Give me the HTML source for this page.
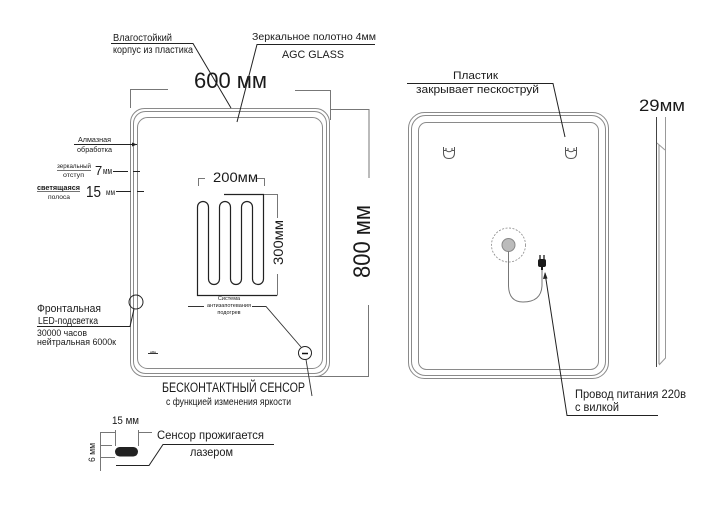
<!DOCTYPE html>
<html><head><meta charset="utf-8"><style>
html,body{margin:0;padding:0;background:#fff;}
svg{display:block;}
text{font-family:"Liberation Sans",Arial,sans-serif;fill:#1a1a1a;}
</style></head><body>
<svg width="720" height="505" viewBox="0 0 720 505" xmlns="http://www.w3.org/2000/svg">
<!-- FRONT VIEW frame -->
<g fill="none" stroke="#8a8a8a" stroke-width="1">
<rect x="130.5" y="108.5" width="199" height="268" rx="14"/>
<rect x="133.5" y="111.5" width="193" height="262" rx="12"/>
<rect x="137.5" y="117.5" width="185" height="251" rx="10"/>
</g>
<!-- 600 dim -->
<g stroke="#777" stroke-width="1" fill="none">
<path d="M130.5 108 V89.5 H168"/>
<path d="M295 90.5 H330.5 V120"/>
<path d="M330 109.5 H369 V178"/>
<path d="M368.5 305 V376.5 H315"/>
</g>
<text x="194" y="88" font-size="22" textLength="73" lengthAdjust="spacingAndGlyphs">600 мм</text>
<text transform="translate(370,278) rotate(-90)" x="0" y="0" font-size="24" textLength="73" lengthAdjust="spacingAndGlyphs">800 мм</text>
<!-- top labels -->
<text x="113" y="41" font-size="10" textLength="59" lengthAdjust="spacingAndGlyphs">Влагостойкий</text>
<text x="113" y="53" font-size="10" textLength="80" lengthAdjust="spacingAndGlyphs">корпус из пластика</text>
<text x="252" y="40" font-size="10" textLength="124" lengthAdjust="spacingAndGlyphs">Зеркальное  полотно 4мм</text>
<text x="282" y="58" font-size="11" textLength="62" lengthAdjust="spacingAndGlyphs">AGC GLASS</text>
<g stroke="#222" stroke-width="1" fill="none">
<path d="M111 43.5 H193 L231 108"/>
<path d="M375 44.5 H257 L237 122"/>
</g>
<!-- left labels -->
<text x="78" y="142" font-size="7" textLength="33" lengthAdjust="spacingAndGlyphs">Алмазная</text>
<text x="77" y="152" font-size="7" textLength="35" lengthAdjust="spacingAndGlyphs">обработка</text>
<path d="M74 144.5 H137" stroke="#222" stroke-width="1"/>
<path d="M137 144.5 L132 142.5 L132 146.5 Z" fill="#222"/>
<text x="57" y="168" font-size="6" textLength="34" lengthAdjust="spacingAndGlyphs">зеркальный</text>
<path d="M57 170.5 H91" stroke="#444" stroke-width="0.8"/>
<text x="63" y="177" font-size="6" textLength="21" lengthAdjust="spacingAndGlyphs">отступ</text>
<text x="95" y="175" font-size="13">7</text>
<text x="103" y="174" font-size="9" textLength="9" lengthAdjust="spacingAndGlyphs">мм</text>
<path d="M113 171.5 H128 M133 171.5 H140" stroke="#222" stroke-width="1"/>
<text x="37" y="190" font-size="7.5" font-weight="bold" textLength="43" lengthAdjust="spacingAndGlyphs">светящаяся</text>
<path d="M37 191.5 H80" stroke="#444" stroke-width="0.8"/>
<text x="48" y="199" font-size="6" textLength="22" lengthAdjust="spacingAndGlyphs">полоса</text>
<text x="86" y="197" font-size="16" textLength="15" lengthAdjust="spacingAndGlyphs">15</text>
<text x="106" y="195" font-size="8" textLength="9" lengthAdjust="spacingAndGlyphs">мм</text>
<path d="M116 191.5 H131 M137 191.5 H144" stroke="#222" stroke-width="1"/>
<!-- heating element -->
<g stroke="#222" stroke-width="1.2" fill="none">
<path d="M277 295.5 H197.5 V207 A5.5 5.5 0 0 1 208.5 207 V279 A5.5 5.5 0 0 0 219.5 279 V207 A5.5 5.5 0 0 1 230.5 207 V279 A5.5 5.5 0 0 0 241.5 279 V207 A5.5 5.5 0 0 1 252.5 207 V279 A5.5 5.5 0 0 0 263.5 279 V194.5 H224"/>
</g>
<g stroke="#777" stroke-width="1" fill="none">
<path d="M198.5 186 V178.5 H205"/>
<path d="M257 178.5 H264.5 V186"/>
<path d="M264 194.5 H277.5 V218"/>
<path d="M277.5 274 V295.5"/>
</g>
<text x="213" y="182" font-size="14" textLength="45" lengthAdjust="spacingAndGlyphs">200мм</text>
<text transform="translate(283,265) rotate(-90)" x="0" y="0" font-size="14" textLength="45" lengthAdjust="spacingAndGlyphs">300мм</text>
<text x="229" y="300" font-size="5.5" text-anchor="middle" fill="#444">Система</text>
<text x="229" y="307" font-size="5.5" text-anchor="middle" fill="#444" textLength="44" lengthAdjust="spacingAndGlyphs">антизапотевания</text>
<text x="229" y="314" font-size="5.5" text-anchor="middle" fill="#444">подогрев</text>
<path d="M188 306.5 H204 M252 306.5 H266 L301 347" stroke="#333" stroke-width="0.9" fill="none"/>
<!-- sensor -->
<circle cx="305" cy="353" r="6.5" fill="#fff" stroke="#222" stroke-width="1"/>
<path d="M302 353.5 H308" stroke="#111" stroke-width="1.5"/>
<path d="M306 359.5 L312 396" stroke="#333" stroke-width="0.9"/>
<text x="162" y="392" font-size="13.5" textLength="143" lengthAdjust="spacingAndGlyphs">БЕСКОНТАКТНЫЙ СЕНСОР</text>
<text x="166" y="405" font-size="10" textLength="125" lengthAdjust="spacingAndGlyphs">с функцией изменения яркости</text>
<!-- LED -->
<circle cx="136" cy="302" r="7" fill="none" stroke="#222" stroke-width="1"/>
<path d="M134 309 L130 326.5 H37" stroke="#222" stroke-width="1" fill="none"/>
<text x="37" y="312" font-size="11" textLength="64" lengthAdjust="spacingAndGlyphs">Фронтальная</text>
<text x="38" y="324" font-size="10" textLength="60" lengthAdjust="spacingAndGlyphs">LED-подсветка</text>
<text x="37" y="336" font-size="9" textLength="50" lengthAdjust="spacingAndGlyphs">30000 часов</text>
<text x="37" y="345" font-size="9" textLength="79" lengthAdjust="spacingAndGlyphs">нейтральная 6000к</text>
<!-- small icon -->
<path d="M148 353.5 H158 M151 353.5 V351.5 M153 353.5 V351 M155 353.5 V351.5" stroke="#333" stroke-width="1"/>
<!-- bottom-left sensor detail -->
<rect x="115" y="447" width="23" height="9.5" rx="4.7" fill="#222"/>
<g stroke="#777" stroke-width="1" fill="none">
<path d="M115.5 430 V446"/>
<path d="M138.5 430 V446"/>
<path d="M100 432.5 H115 M139 432.5 H152"/>
<path d="M100.5 432 V471"/>
<path d="M100 445.5 H112 M100 457.5 H115"/>
</g>
<text x="112" y="424" font-size="11" textLength="27" lengthAdjust="spacingAndGlyphs">15 мм</text>
<text transform="translate(95,462) rotate(-90)" x="0" y="0" font-size="9.5" textLength="19" lengthAdjust="spacingAndGlyphs">6 мм</text>
<path d="M116 465.5 H149 L163 444.5 H274" stroke="#222" stroke-width="1" fill="none"/>
<text x="157" y="439" font-size="12" textLength="107" lengthAdjust="spacingAndGlyphs">Сенсор  прожигается</text>
<text x="190" y="456" font-size="12" textLength="43" lengthAdjust="spacingAndGlyphs">лазером</text>
<!-- BACK VIEW -->
<g fill="none" stroke="#8a8a8a" stroke-width="1">
<rect x="408.5" y="112.5" width="200" height="266" rx="16"/>
<rect x="411.5" y="115.5" width="194" height="260" rx="14"/>
<rect x="418.5" y="122.5" width="180" height="247" rx="8"/>
</g>
<text x="453" y="79" font-size="11" textLength="45" lengthAdjust="spacingAndGlyphs">Пластик</text>
<text x="416" y="93" font-size="11" textLength="123" lengthAdjust="spacingAndGlyphs">закрывает пескоструй</text>
<path d="M407 83.5 H553 L565 137" stroke="#222" stroke-width="1" fill="none"/>
<!-- hooks -->
<g stroke="#555" stroke-width="1" fill="none">
<path d="M443.5 147 V153 Q443.5 158.5 449 158.5 Q454.5 158.5 454.5 153 V147 M443.5 150.5 H446 V148 M454.5 150.5 H452 V148 M446 150.5 Q449 153 452 150.5"/>
<path d="M565.5 147 V153 Q565.5 158.5 571 158.5 Q576.5 158.5 576.5 153 V147 M565.5 150.5 H568 V148 M576.5 150.5 H574 V148 M568 150.5 Q571 153 574 150.5"/>
</g>
<!-- center -->
<circle cx="508.5" cy="245" r="17" fill="none" stroke="#888" stroke-width="0.8" stroke-dasharray="2 1.5"/>
<circle cx="508.5" cy="245" r="6.5" fill="#bbb" stroke="#888" stroke-width="1"/>
<path d="M508.5 251.5 V286 Q509 302 523 302 Q541 302 542 286 V268" stroke="#777" stroke-width="1" fill="none"/>
<!-- plug -->
<rect x="538" y="259" width="8" height="8" rx="2" fill="#1a1a1a"/>
<path d="M540 259 V255 M544 259 V255" stroke="#1a1a1a" stroke-width="1.3"/>
<path d="M541 267 H543 V270 H541 Z" fill="#1a1a1a"/>
<path d="M545 273 L567 415.5 H658" stroke="#222" stroke-width="1" fill="none"/>
<path d="M545 272 L543 279 L547.5 278.5 Z" fill="#222"/>
<text x="575" y="398" font-size="12" textLength="111" lengthAdjust="spacingAndGlyphs">Провод питания 220в</text>
<text x="575" y="411" font-size="12" textLength="44" lengthAdjust="spacingAndGlyphs">с вилкой</text>
<!-- SIDE VIEW -->
<text x="639" y="111" font-size="17" textLength="46" lengthAdjust="spacingAndGlyphs">29мм</text>
<g fill="none" stroke-width="1">
<path d="M656.5 117 V367" stroke="#444"/>
<path d="M659 145 V364" stroke="#888"/>
<path d="M665.5 117 V358 L659 365" stroke="#999"/>
<path d="M657 143 L665 150" stroke="#999"/>
</g>
</svg>
</body></html>
